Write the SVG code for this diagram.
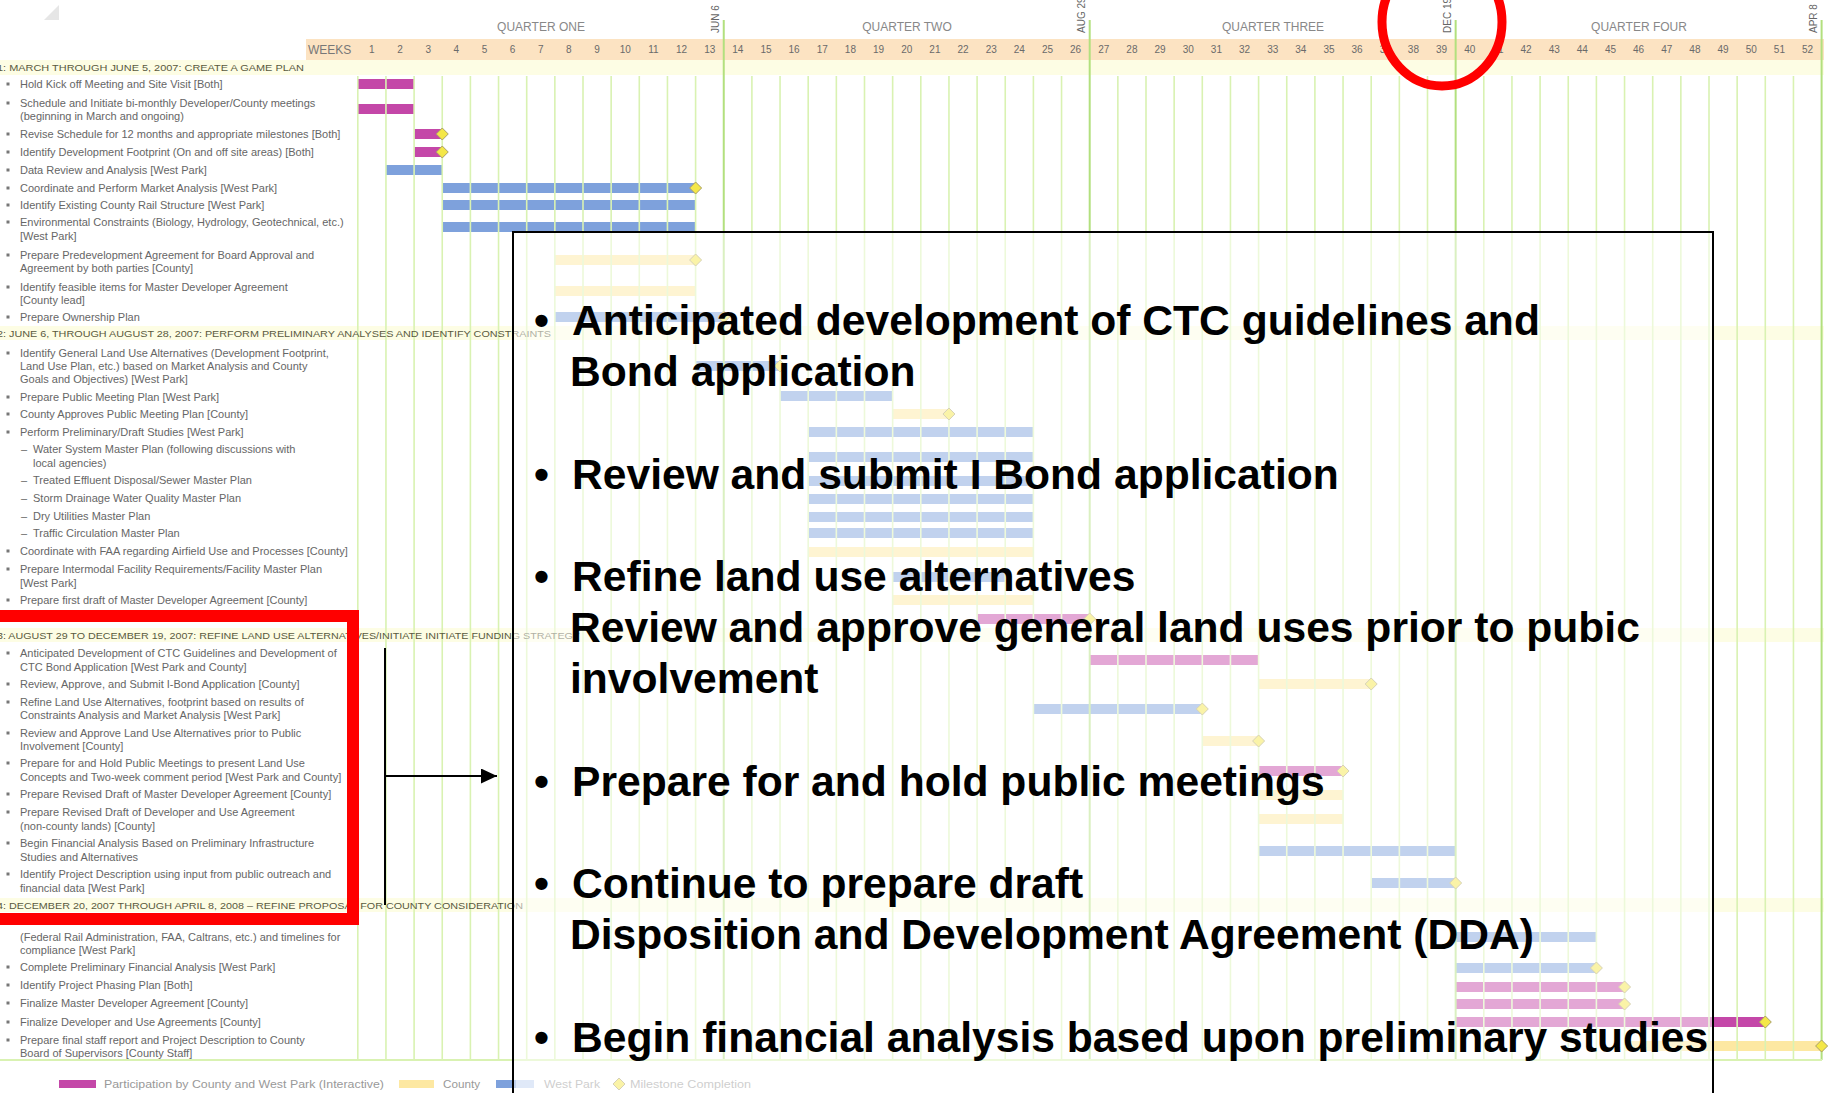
<svg xmlns="http://www.w3.org/2000/svg" width="1839" height="1093" viewBox="0 0 1839 1093">
<style>
.t{font-family:"Liberation Sans",Arial,sans-serif;font-size:11px;fill:#666}
.ph{font-family:"Liberation Sans",Arial,sans-serif;font-size:9.5px;fill:#5a5a40}
.wk{font-family:"Liberation Sans",Arial,sans-serif;font-size:10px;fill:#6a6a6a;text-anchor:middle}
.q{font-family:"Liberation Sans",Arial,sans-serif;font-size:12px;fill:#888;text-anchor:middle}
.vd{font-family:"Liberation Sans",Arial,sans-serif;font-size:10px;fill:#666}
.lg{font-family:"Liberation Sans",Arial,sans-serif;font-size:11px;fill:#999}
.big{font-family:"Liberation Sans",Arial,sans-serif;font-size:42.6px;font-weight:bold;fill:#000}
.m{fill:#c447a8}.b{fill:#7ea1dc}.y{fill:#fde8a2}
.band{fill:#fdfde4}
</style>
<defs>
<polygon id="ms" points="0,-6 6,0 0,6 -6,0" fill="#f4e748" stroke="#a9a06a" stroke-width="1"/>
<rect id="bl" x="-1.5" y="-1.5" width="3" height="3" fill="#777"/>
<marker id="arr" markerUnits="userSpaceOnUse" markerWidth="16" markerHeight="15" refX="16" refY="7.5" orient="auto"><path d="M0,0 L16,7.5 L0,15 z" fill="#000"/></marker>
</defs>

<g id="corner"><polygon points="44,20 59,20 59,5" fill="#e6e6e6"/></g>

<g id="header">
<rect x="306" y="39" width="1518" height="21" fill="#fce3c2"/>
<text class="q" x="541" y="31">QUARTER ONE</text>
<text class="q" x="907" y="31">QUARTER TWO</text>
<text class="q" x="1273" y="31">QUARTER THREE</text>
<text class="q" x="1639" y="31">QUARTER FOUR</text>
<text x="308" y="54" style="font-family:'Liberation Sans',Arial,sans-serif;font-size:12px;fill:#777">WEEKS</text>
<text class="vd" transform="translate(719,33) rotate(-90)">JUN 6</text>
<text class="vd" transform="translate(1085,33) rotate(-90)">AUG 29</text>
<text class="vd" transform="translate(1451,33) rotate(-90)">DEC 19</text>
<text class="vd" transform="translate(1817,33) rotate(-90)">APR 8</text>
<text class="wk" x="371.9" y="53">1</text><text class="wk" x="400" y="53">2</text><text class="wk" x="428.2" y="53">3</text><text class="wk" x="456.3" y="53">4</text><text class="wk" x="484.5" y="53">5</text><text class="wk" x="512.6" y="53">6</text><text class="wk" x="540.8" y="53">7</text><text class="wk" x="568.9" y="53">8</text><text class="wk" x="597.1" y="53">9</text><text class="wk" x="625.2" y="53">10</text><text class="wk" x="653.4" y="53">11</text><text class="wk" x="681.5" y="53">12</text><text class="wk" x="709.7" y="53">13</text>
<text class="wk" x="737.8" y="53">14</text><text class="wk" x="766" y="53">15</text><text class="wk" x="794.1" y="53">16</text><text class="wk" x="822.3" y="53">17</text><text class="wk" x="850.4" y="53">18</text><text class="wk" x="878.6" y="53">19</text><text class="wk" x="906.7" y="53">20</text><text class="wk" x="934.9" y="53">21</text><text class="wk" x="963" y="53">22</text><text class="wk" x="991.2" y="53">23</text><text class="wk" x="1019.3" y="53">24</text><text class="wk" x="1047.5" y="53">25</text><text class="wk" x="1075.6" y="53">26</text>
<text class="wk" x="1103.8" y="53">27</text><text class="wk" x="1131.9" y="53">28</text><text class="wk" x="1160.1" y="53">29</text><text class="wk" x="1188.2" y="53">30</text><text class="wk" x="1216.4" y="53">31</text><text class="wk" x="1244.5" y="53">32</text><text class="wk" x="1272.7" y="53">33</text><text class="wk" x="1300.8" y="53">34</text><text class="wk" x="1329" y="53">35</text><text class="wk" x="1357.1" y="53">36</text><text class="wk" x="1385.3" y="53">37</text><text class="wk" x="1413.4" y="53">38</text><text class="wk" x="1441.6" y="53">39</text>
<text class="wk" x="1469.7" y="53">40</text><text class="wk" x="1497.9" y="53">41</text><text class="wk" x="1526" y="53">42</text><text class="wk" x="1554.2" y="53">43</text><text class="wk" x="1582.3" y="53">44</text><text class="wk" x="1610.5" y="53">45</text><text class="wk" x="1638.6" y="53">46</text><text class="wk" x="1666.8" y="53">47</text><text class="wk" x="1694.9" y="53">48</text><text class="wk" x="1723.1" y="53">49</text><text class="wk" x="1751.2" y="53">50</text><text class="wk" x="1779.4" y="53">51</text><text class="wk" x="1807.5" y="53">52</text>
</g>

<g id="phase-bands">
<rect class="band" x="0" y="60" width="1824" height="15"/>
<rect class="band" x="0" y="326" width="1824" height="14"/>
<rect class="band" x="0" y="628" width="1824" height="14"/>
<rect class="band" x="0" y="898" width="1824" height="14"/>
</g>

<g id="bars">
<rect class="m" x="357.8" y="79" width="56.3" height="10"/>
<rect class="m" x="357.8" y="104" width="56.3" height="10"/>
<rect class="m" x="414.1" y="129" width="28.15" height="10"/>
<rect class="m" x="414.1" y="147" width="28.15" height="10"/>
<rect class="b" x="385.95" y="165" width="56.3" height="10"/>
<rect class="b" x="442.25" y="183" width="253.35" height="10"/>
<rect class="b" x="442.25" y="200" width="253.35" height="10"/>
<rect class="b" x="442.25" y="222" width="253.35" height="10"/>
<rect class="y" x="554.85" y="255" width="140.75" height="10"/>
<rect class="y" x="554.85" y="286" width="140.75" height="10"/>
<rect class="b" x="554.85" y="312" width="168.9" height="10"/>
<rect class="b" x="695.6" y="361" width="84.45" height="10"/>
<rect class="b" x="780.05" y="391" width="112.6" height="10"/>
<rect class="y" x="892.65" y="409" width="56.3" height="10"/>
<rect class="b" x="808.2" y="427" width="225.2" height="10"/>
<rect class="b" x="808.2" y="452" width="225.2" height="10"/>
<rect class="b" x="808.2" y="476" width="225.2" height="10"/>
<rect class="b" x="808.2" y="494" width="225.2" height="10"/>
<rect class="b" x="808.2" y="512" width="225.2" height="10"/>
<rect class="b" x="808.2" y="528" width="225.2" height="10"/>
<rect class="y" x="808.2" y="547" width="225.2" height="10"/>
<rect class="b" x="892.65" y="572" width="112.6" height="10"/>
<rect class="y" x="892.65" y="595" width="140.75" height="10"/>
<rect class="m" x="977.1" y="614" width="112.6" height="10"/>
<rect class="m" x="1089.7" y="655" width="168.9" height="10"/>
<rect class="y" x="1258.6" y="679" width="112.6" height="10"/>
<rect class="b" x="1033.4" y="704" width="168.9" height="10"/>
<rect class="y" x="1202.3" y="736" width="56.3" height="10"/>
<rect class="m" x="1258.6" y="766" width="84.45" height="10"/>
<rect class="y" x="1258.6" y="790" width="84.45" height="10"/>
<rect class="y" x="1258.6" y="814" width="84.45" height="10"/>
<rect class="b" x="1258.6" y="846" width="197.05" height="10"/>
<rect class="b" x="1371.2" y="878" width="84.45" height="10"/>
<rect class="b" x="1455.65" y="932" width="140.75" height="10"/>
<rect class="b" x="1455.65" y="963" width="140.75" height="10"/>
<rect class="m" x="1455.65" y="982" width="168.9" height="10"/>
<rect class="m" x="1455.65" y="999" width="168.9" height="10"/>
<rect class="m" x="1455.65" y="1017" width="309.65" height="10"/>
<rect class="y" x="1624.55" y="1041" width="197.05" height="10"/>
</g>

<g id="grid" fill="none">
<path stroke="#d9f2b2" stroke-width="1.6" d="M357.8 76V1060M385.95 76V1060M414.1 76V1060M442.25 76V1060M470.4 76V1060M498.55 76V1060M526.7 76V1060M554.85 76V1060M583 76V1060M611.15 76V1060M639.3 76V1060M667.45 76V1060M695.6 76V1060M751.9 76V1060M780.05 76V1060M808.2 76V1060M836.35 76V1060M864.5 76V1060M892.65 76V1060M920.8 76V1060M948.95 76V1060M977.1 76V1060M1005.25 76V1060M1033.4 76V1060M1061.55 76V1060M1117.85 76V1060M1146 76V1060M1174.15 76V1060M1202.3 76V1060M1230.45 76V1060M1258.6 76V1060M1286.75 76V1060M1314.9 76V1060M1343.05 76V1060M1371.2 76V1060M1399.35 76V1060M1427.5 76V1060M1483.8 76V1060M1511.95 76V1060M1540.1 76V1060M1568.25 76V1060M1596.4 76V1060M1624.55 76V1060M1652.7 76V1060M1680.85 76V1060M1709 76V1060M1737.15 76V1060M1765.3 76V1060M1793.45 76V1060"/>
<path stroke="#b2e07e" stroke-width="2" d="M723.75 20V1060M1089.7 20V1060M1455.65 20V1060M1821.6 20V1060"/>
<path stroke="#d9f2b2" stroke-width="2" d="M0 1060H1822"/>
</g>

<g id="milestones">
<use href="#ms" x="442.25" y="134"/><use href="#ms" x="442.25" y="152"/>
<use href="#ms" x="695.6" y="188"/><use href="#ms" x="695.6" y="260"/><use href="#ms" x="723.75" y="317"/>
<use href="#ms" x="780.05" y="366"/><use href="#ms" x="948.95" y="414"/><use href="#ms" x="1089.7" y="619"/>
<use href="#ms" x="1371.2" y="684"/><use href="#ms" x="1202.3" y="709"/><use href="#ms" x="1258.6" y="741"/>
<use href="#ms" x="1343.05" y="771"/><use href="#ms" x="1455.65" y="883"/>
<use href="#ms" x="1596.4" y="968"/><use href="#ms" x="1624.55" y="987"/><use href="#ms" x="1624.55" y="1004"/>
<use href="#ms" x="1765.3" y="1022"/><use href="#ms" x="1821.6" y="1046"/>
</g>

<g id="phase1">
<text class="ph" x="-3" y="71" textLength="307" lengthAdjust="spacingAndGlyphs">1:  MARCH THROUGH JUNE 5, 2007: CREATE A GAME PLAN</text>
<use href="#bl" x="8" y="84"/><text class="t" x="20" y="88">Hold Kick off Meeting and Site Visit [Both]</text>
<use href="#bl" x="8" y="103"/><text class="t" x="20" y="107">Schedule and Initiate bi-monthly Developer/County meetings</text><text class="t" x="20" y="120">(beginning in March and ongoing)</text>
<use href="#bl" x="8" y="134"/><text class="t" x="20" y="138">Revise Schedule for 12 months and appropriate milestones [Both]</text>
<use href="#bl" x="8" y="152"/><text class="t" x="20" y="156">Identify Development Footprint (On and off site areas) [Both]</text>
<use href="#bl" x="8" y="170"/><text class="t" x="20" y="174">Data Review and Analysis [West Park]</text>
<use href="#bl" x="8" y="188"/><text class="t" x="20" y="192">Coordinate and Perform Market Analysis [West Park]</text>
<use href="#bl" x="8" y="205"/><text class="t" x="20" y="209">Identify Existing County Rail Structure [West Park]</text>
<use href="#bl" x="8" y="222"/><text class="t" x="20" y="226">Environmental Constraints (Biology, Hydrology, Geotechnical, etc.)</text><text class="t" x="20" y="240">[West Park]</text>
<use href="#bl" x="8" y="255"/><text class="t" x="20" y="259">Prepare Predevelopment Agreement for Board Approval and</text><text class="t" x="20" y="272">Agreement by both parties [County]</text>
<use href="#bl" x="8" y="287"/><text class="t" x="20" y="291">Identify feasible items for Master Developer Agreement</text><text class="t" x="20" y="304">[County lead]</text>
<use href="#bl" x="8" y="317"/><text class="t" x="20" y="321">Prepare Ownership Plan</text>
</g>

<g id="phase2">
<text class="ph" x="-3" y="337" textLength="554" lengthAdjust="spacingAndGlyphs">2:  JUNE 6, THROUGH AUGUST 28, 2007:  PERFORM PRELIMINARY ANALYSES AND IDENTIFY CONSTRAINTS</text>
<use href="#bl" x="8" y="353"/><text class="t" x="20" y="357">Identify General Land Use Alternatives (Development Footprint,</text><text class="t" x="20" y="370">Land Use Plan, etc.) based on Market Analysis and County</text><text class="t" x="20" y="383">Goals and Objectives) [West Park]</text>
<use href="#bl" x="8" y="397"/><text class="t" x="20" y="401">Prepare Public Meeting Plan [West Park]</text>
<use href="#bl" x="8" y="414"/><text class="t" x="20" y="418">County Approves Public Meeting Plan [County]</text>
<use href="#bl" x="8" y="432"/><text class="t" x="20" y="436">Perform Preliminary/Draft Studies [West Park]</text>
<text class="t" x="21" y="453">–</text><text class="t" x="33" y="453">Water System Master Plan (following discussions with</text><text class="t" x="33" y="467">local agencies)</text>
<text class="t" x="21" y="484">–</text><text class="t" x="33" y="484">Treated Effluent Disposal/Sewer Master Plan</text>
<text class="t" x="21" y="502">–</text><text class="t" x="33" y="502">Storm Drainage Water Quality Master Plan</text>
<text class="t" x="21" y="520">–</text><text class="t" x="33" y="520">Dry Utilities Master Plan</text>
<text class="t" x="21" y="537">–</text><text class="t" x="33" y="537">Traffic Circulation Master Plan</text>
<use href="#bl" x="8" y="551"/><text class="t" x="20" y="555">Coordinate with FAA regarding Airfield Use and Processes [County]</text>
<use href="#bl" x="8" y="569"/><text class="t" x="20" y="573">Prepare Intermodal Facility Requirements/Facility Master Plan</text><text class="t" x="20" y="587">[West Park]</text>
<use href="#bl" x="8" y="600"/><text class="t" x="20" y="604">Prepare first draft of Master Developer Agreement [County]</text>
</g>

<g id="phase3">
<text class="ph" x="-3" y="638.5" textLength="583" lengthAdjust="spacingAndGlyphs">3:  AUGUST 29 TO DECEMBER 19, 2007:  REFINE LAND USE ALTERNATIVES/INITIATE INITIATE FUNDING STRATEGY</text>
<use href="#bl" x="8" y="653"/><text class="t" x="20" y="657">Anticipated Development of CTC Guidelines and Development of</text><text class="t" x="20" y="671">CTC Bond Application [West Park and County]</text>
<use href="#bl" x="8" y="684"/><text class="t" x="20" y="688">Review, Approve, and Submit I-Bond Application [County]</text>
<use href="#bl" x="8" y="702"/><text class="t" x="20" y="706">Refine Land Use Alternatives, footprint based on results of</text><text class="t" x="20" y="719">Constraints Analysis and Market Analysis [West Park]</text>
<use href="#bl" x="8" y="733"/><text class="t" x="20" y="737">Review and Approve Land Use Alternatives prior to Public</text><text class="t" x="20" y="750">Involvement [County]</text>
<use href="#bl" x="8" y="763"/><text class="t" x="20" y="767">Prepare for and Hold Public Meetings to present Land Use</text><text class="t" x="20" y="781">Concepts and Two-week comment period [West Park and County]</text>
<use href="#bl" x="8" y="794"/><text class="t" x="20" y="798">Prepare Revised Draft of Master Developer Agreement [County]</text>
<use href="#bl" x="8" y="812"/><text class="t" x="20" y="816">Prepare Revised Draft of Developer and Use Agreement</text><text class="t" x="20" y="830">(non-county lands) [County]</text>
<use href="#bl" x="8" y="843"/><text class="t" x="20" y="847">Begin Financial Analysis Based on Preliminary Infrastructure</text><text class="t" x="20" y="861">Studies and Alternatives</text>
<use href="#bl" x="8" y="874"/><text class="t" x="20" y="878">Identify Project Description using input from public outreach and</text><text class="t" x="20" y="892">financial data [West Park]</text>
</g>

<g id="phase4">
<text class="ph" x="-3" y="908.5" textLength="526" lengthAdjust="spacingAndGlyphs">4:  DECEMBER 20, 2007 THROUGH APRIL 8, 2008 – REFINE PROPOSAL FOR COUNTY CONSIDERATION</text>
<text class="t" x="20" y="941">(Federal Rail Administration, FAA, Caltrans, etc.) and timelines for</text><text class="t" x="20" y="954">compliance [West Park]</text>
<use href="#bl" x="8" y="967"/><text class="t" x="20" y="971">Complete Preliminary Financial Analysis [West Park]</text>
<use href="#bl" x="8" y="985"/><text class="t" x="20" y="989">Identify Project Phasing Plan [Both]</text>
<use href="#bl" x="8" y="1003"/><text class="t" x="20" y="1007">Finalize Master Developer Agreement [County]</text>
<use href="#bl" x="8" y="1022"/><text class="t" x="20" y="1026">Finalize Developer and Use Agreements [County]</text>
<use href="#bl" x="8" y="1040"/><text class="t" x="20" y="1044">Prepare final staff report and Project Description to County</text><text class="t" x="20" y="1057">Board of Supervisors [County Staff]</text>
</g>

<g id="legend">
<rect class="m" x="59" y="1080" width="37" height="8"/>
<text class="lg" x="104" y="1088" textLength="280" lengthAdjust="spacingAndGlyphs">Participation by County and West Park (Interactive)</text>
<rect class="y" x="399" y="1080" width="35" height="8"/>
<text class="lg" x="443" y="1088" textLength="37" lengthAdjust="spacingAndGlyphs">County</text>
<rect x="496" y="1080" width="20" height="8" fill="#7ea1dc"/><rect x="516" y="1080" width="18" height="8" fill="#bfd1f1"/>
<text class="lg" x="544" y="1088" textLength="56" lengthAdjust="spacingAndGlyphs">West Park</text>
<use href="#ms" x="619" y="1084"/>
<text class="lg" x="630" y="1088" textLength="121" lengthAdjust="spacingAndGlyphs">Milestone Completion</text>
</g>

<g id="callout">
<rect x="513" y="232" width="1200" height="900" fill="#fff" fill-opacity="0.52" stroke="#000" stroke-width="2"/>
<text class="big" x="534" y="335">•</text><text class="big" x="572" y="335">Anticipated development of CTC guidelines and</text>
<text class="big" x="570" y="386">Bond application</text>
<text class="big" x="534" y="489">•</text><text class="big" x="572" y="489">Review and submit I Bond application</text>
<text class="big" x="534" y="591">•</text><text class="big" x="572" y="591">Refine land use alternatives</text>
<text class="big" x="570" y="642">Review and approve general land uses prior to pubic</text>
<text class="big" x="570" y="693">involvement</text>
<text class="big" x="534" y="796">•</text><text class="big" x="572" y="796">Prepare for and hold public meetings</text>
<text class="big" x="534" y="898">•</text><text class="big" x="572" y="898">Continue to prepare draft</text>
<text class="big" x="570" y="949">Disposition and Development Agreement (DDA)</text>
<text class="big" x="534" y="1052">•</text><text class="big" x="572" y="1052">Begin financial analysis based upon preliminary studies</text>
</g>

<g id="connectors" stroke="#000" stroke-width="2" fill="none">
<path d="M385 648V905"/>
<path d="M385 776H497" marker-end="url(#arr)"/>
</g>

<g id="red-highlight">
<rect x="-10" y="616" width="363" height="303" fill="none" stroke="#ff0000" stroke-width="12"/>
</g>
<g id="red-circle">
<ellipse cx="1442" cy="22" rx="60" ry="64" fill="none" stroke="#ff0000" stroke-width="9"/>
</g>
</svg>
